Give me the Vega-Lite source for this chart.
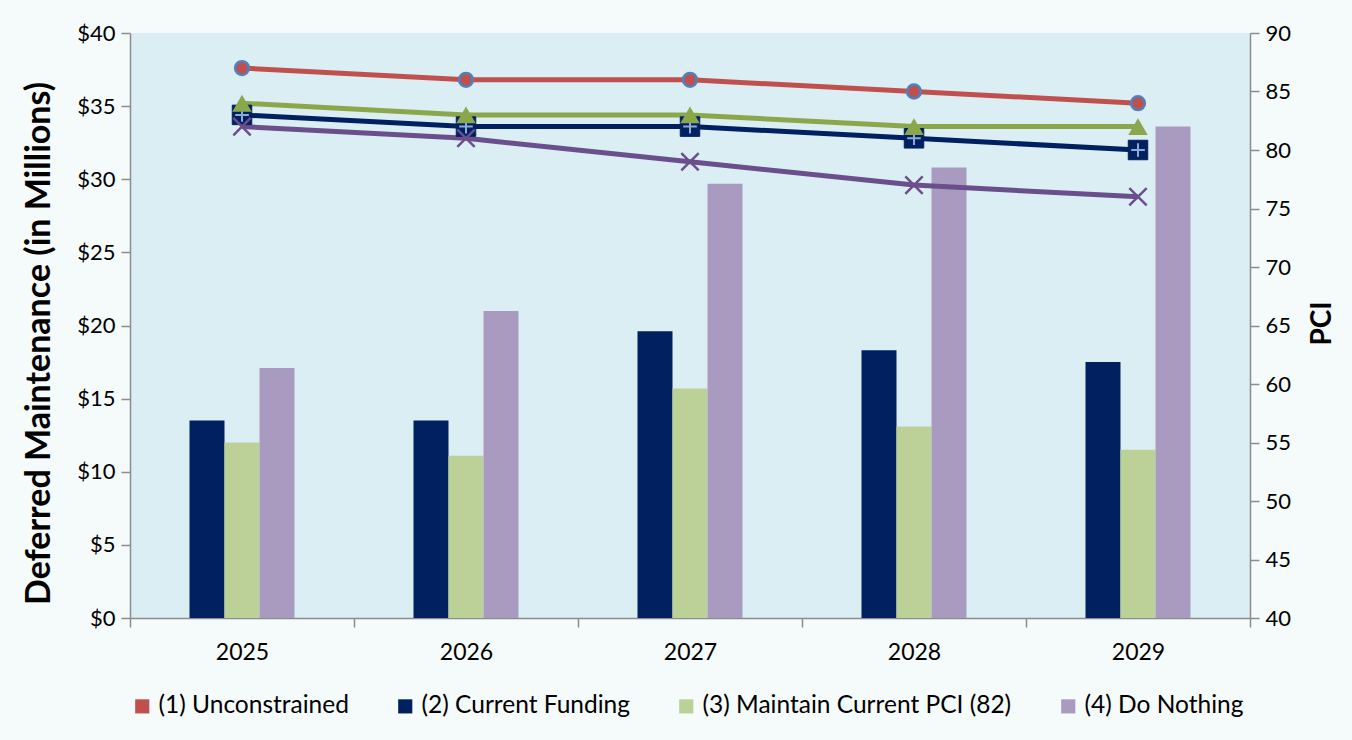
{
  "$schema": "https://vega.github.io/schema/vega-lite/v6.json",
  "autosize": {"type": "none"},
  "width": 1120,
  "height": 585,
  "padding": {"left": 130, "top": 33, "right": 102, "bottom": 122},
  "background": "#F5FAFB",
  "config": {
    "font": "Lato",
    "view": {"fill": "#DAEEF3", "stroke": null},
    "axis": {"labelFont": "Lato", "titleFont": "Lato", "labelColor": "#000000", "titleColor": "#000000", "domainColor": "#8C8C8C", "tickColor": "#8C8C8C", "domainWidth": 1.5, "tickWidth": 1.5, "grid": false}
  },
  "datasets": {
    "rows": [
      {"year": "2025", "series": "(1) Unconstrained", "pci": 87, "deferred": null},
      {"year": "2026", "series": "(1) Unconstrained", "pci": 86, "deferred": null},
      {"year": "2027", "series": "(1) Unconstrained", "pci": 86, "deferred": null},
      {"year": "2028", "series": "(1) Unconstrained", "pci": 85, "deferred": null},
      {"year": "2029", "series": "(1) Unconstrained", "pci": 84, "deferred": null},
      {"year": "2025", "series": "(2) Current Funding", "pci": 83, "deferred": 13.5},
      {"year": "2026", "series": "(2) Current Funding", "pci": 82, "deferred": 13.5},
      {"year": "2027", "series": "(2) Current Funding", "pci": 82, "deferred": 19.6},
      {"year": "2028", "series": "(2) Current Funding", "pci": 81, "deferred": 18.3},
      {"year": "2029", "series": "(2) Current Funding", "pci": 80, "deferred": 17.5},
      {"year": "2025", "series": "(3) Maintain Current PCI (82)", "pci": 84, "deferred": 12.0},
      {"year": "2026", "series": "(3) Maintain Current PCI (82)", "pci": 83, "deferred": 11.1},
      {"year": "2027", "series": "(3) Maintain Current PCI (82)", "pci": 83, "deferred": 15.7},
      {"year": "2028", "series": "(3) Maintain Current PCI (82)", "pci": 82, "deferred": 13.1},
      {"year": "2029", "series": "(3) Maintain Current PCI (82)", "pci": 82, "deferred": 11.5},
      {"year": "2025", "series": "(4) Do Nothing", "pci": 82, "deferred": 17.1},
      {"year": "2026", "series": "(4) Do Nothing", "pci": 81, "deferred": 21.0},
      {"year": "2027", "series": "(4) Do Nothing", "pci": 79, "deferred": 29.7},
      {"year": "2028", "series": "(4) Do Nothing", "pci": 77, "deferred": 30.8},
      {"year": "2029", "series": "(4) Do Nothing", "pci": 76, "deferred": 33.6}
    ]
  },
  "data": {"name": "rows"},
  "encoding": {
    "x": {
      "field": "year", "type": "nominal", "sort": null,
      "scale": {"paddingInner": 0, "paddingOuter": 0},
      "axis": {"title": null, "labelAngle": 0, "labelFontSize": 23, "tickBand": "extent", "tickSize": 9, "labelPadding": 14}
    }
  },
  "layer": [
    {
      "transform": [{"filter": "datum.deferred != null"}],
      "mark": {"type": "bar", "stroke": null},
      "encoding": {
        "xOffset": {"field": "series", "type": "nominal", "sort": null, "scale": {"domain": ["_left", "(2) Current Funding", "(3) Maintain Current PCI (82)", "(4) Do Nothing", "_right"], "paddingInner": 0, "paddingOuter": 0.7}},
        "y": {
          "field": "deferred", "type": "quantitative",
          "scale": {"domain": [0, 40]},
          "axis": {"title": "Deferred Maintenance (in Millions)", "titleFontSize": 34, "titleFontWeight": "bold", "titlePadding": 20, "titleY": 310, "labelFontSize": 22, "values": [0, 5, 10, 15, 20, 25, 30, 35, 40], "labelExpr": "'$' + datum.value", "tickSize": 9, "labelPadding": 6}
        },
        "color": {
          "field": "series", "type": "nominal",
          "scale": {"domain": ["(1) Unconstrained", "(2) Current Funding", "(3) Maintain Current PCI (82)", "(4) Do Nothing"], "range": ["#C0504D", "#002060", "#BBD197", "#A99BC0"]},
          "legend": {"title": null, "orient": "bottom", "direction": "horizontal", "symbolType": "square", "symbolSize": 200, "symbolStrokeWidth": 0, "labelFontSize": 24.5, "labelFont": "Lato", "labelColor": "#000000", "columnPadding": 44, "offset": 30, "labelLimit": 400}
        }
      }
    },
    {
      "encoding": {
        "y": {
          "field": "pci", "type": "quantitative",
          "scale": {"domain": [40, 90]},
          "axis": {"orient": "right", "title": "PCI", "titleFontSize": 28, "titleFontWeight": "bold", "titleAngle": 270, "titleBaseline": "top", "titlePadding": 18, "titleY": 290, "labelFontSize": 22, "values": [40, 45, 50, 55, 60, 65, 70, 75, 80, 85, 90], "tickSize": 9, "labelPadding": 6}
        }
      },
      "layer": [
        {
          "mark": {"type": "line", "strokeWidth": 5},
          "encoding": {
            "stroke": {"field": "series", "type": "nominal", "legend": null,
              "scale": {"domain": ["(1) Unconstrained", "(2) Current Funding", "(3) Maintain Current PCI (82)", "(4) Do Nothing"], "range": ["#C0504D", "#002060", "#8AA84B", "#6B4E8C"]}},
            "detail": {"field": "series"}
          }
        },
        {
          "transform": [{"filter": "datum.series == '(1) Unconstrained'"}],
          "mark": {"type": "point", "shape": "circle", "filled": true, "fill": "#C0504D", "stroke": "#4F81BD", "strokeWidth": 2.5, "size": 190, "opacity": 1}
        },
        {
          "transform": [{"filter": "datum.series == '(2) Current Funding'"}],
          "mark": {"type": "point", "shape": "square", "filled": true, "fill": "#002060", "stroke": "#002060", "strokeWidth": 1, "size": 380, "opacity": 1}
        },
        {
          "transform": [{"filter": "datum.series == '(2) Current Funding'"}],
          "mark": {"type": "point", "shape": "M-0.7,0L0.7,0M0,-0.7L0,0.7", "filled": false, "stroke": "#8EA9DB", "strokeWidth": 2, "size": 380, "opacity": 1}
        },
        {
          "transform": [{"filter": "datum.series == '(3) Maintain Current PCI (82)'"}],
          "mark": {"type": "point", "shape": "triangle-up", "filled": true, "fill": "#8AA84B", "size": 380, "opacity": 1}
        },
        {
          "transform": [{"filter": "datum.series == '(4) Do Nothing'"}],
          "mark": {"type": "point", "shape": "M-1,-1L1,1M-1,1L1,-1", "filled": false, "stroke": "#6B4E8C", "strokeWidth": 2.5, "size": 300, "opacity": 1}
        }
      ]
    }
  ],
  "resolve": {"scale": {"y": "independent"}}
}
